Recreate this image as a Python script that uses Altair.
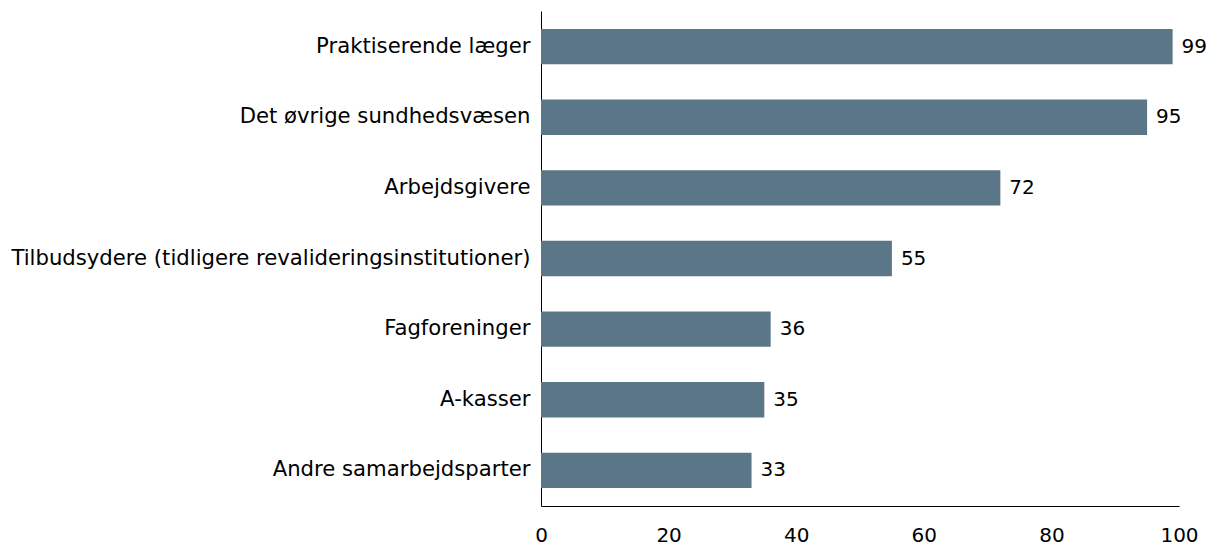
import altair as alt
import pandas as pd

categories = [
    "Praktiserende læger ",
    "Det øvrige sundhedsvæsen ",
    "Arbejdsgivere ",
    "Tilbudsydere (tidligere revalideringsinstitutioner)",
    "Fagforeninger ",
    "A-kasser ",
    "Andre samarbejdsparter",
]
values = [99, 95, 72, 55, 36, 35, 33]
ticks = [0, 20, 40, 60, 80, 100]

df = pd.DataFrame({"cat": categories, "val": values})

FONT = "DejaVu Sans"
FS_CAT = 21.2
FS_NUM = 20
label_expr = ("substring(datum.label, length(datum.label) - 1) == ' ' ? "
              "substring(datum.label, 0, length(datum.label) - 1) + '\u00a0' : datum.label")
y = alt.Y("cat:N", sort=categories, title=None,
          scale=alt.Scale(paddingInner=0.5, paddingOuter=0.255),
          axis=alt.Axis(ticks=False, labelFontSize=FS_CAT, labelColor="black",
                        labelPadding=11, domainColor="black", labelLimit=700,
                        labelExpr=label_expr))
x = alt.X("val:Q", title=None, scale=alt.Scale(domain=[0, 100]),
          axis=alt.Axis(values=ticks, ticks=False, grid=False,
                        labelFontSize=FS_NUM, labelColor="black", labelPadding=19,
                        domainColor="black", labelFlush=False))

bars = alt.Chart(df).mark_bar(color="#5b7686").encode(x=x, y=y)
text = alt.Chart(df).mark_text(align="left", dx=9, fontSize=FS_NUM, font=FONT, color="black").encode(
    x="val:Q", y=alt.Y("cat:N", sort=categories), text="val:Q")

chart = (bars + text).properties(
    width=638, height=495,
    autosize=alt.AutoSizeParams(type="none"),
    padding={"left": 533, "top": 3, "right": 28, "bottom": 40},
).configure(font=FONT).configure_view(stroke=None).configure_axis(labelFont=FONT)

chart.save("out.html", embed_options={"renderer": "svg", "actions": False})
